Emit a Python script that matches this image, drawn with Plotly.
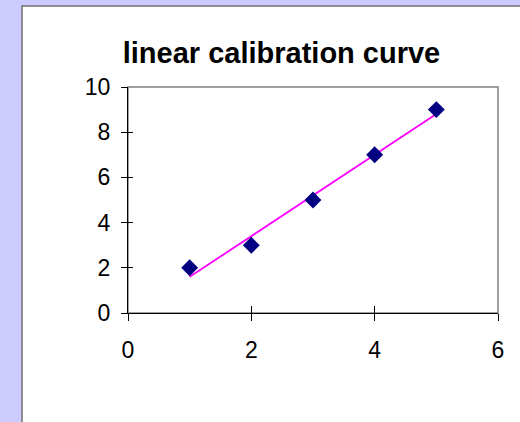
import plotly.graph_objects as go
import numpy as np

# Calibration standards
concentration = [1, 2, 3, 4, 5]
response = [2, 3, 5, 7, 9]

x_ticks = [0, 2, 4, 6]
y_ticks = [0, 2, 4, 6, 8, 10]

# Least-squares linear trendline over the standards' range
slope, intercept = np.polyfit(concentration, response, 1)
fit_x = [min(concentration), max(concentration)]
fit_y = [slope * v + intercept for v in fit_x]

FONT = "Liberation Sans, Arial, sans-serif"

fig = go.Figure()

fig.add_trace(go.Scatter(
    x=fit_x, y=fit_y, mode="lines",
    line=dict(color="#ff00ff", width=1.8),
    hoverinfo="skip", showlegend=False,
))
fig.add_trace(go.Scatter(
    x=concentration, y=response, mode="markers",
    marker=dict(symbol="diamond", size=13, color="#000080",
                line=dict(width=0)),
    showlegend=False,
))
# empty trace so the overlay axes (inner half of the crossing ticks) are drawn
fig.add_trace(go.Scatter(x=[None], y=[None], xaxis="x2", yaxis="y2",
                         showlegend=False, hoverinfo="skip"))

axis_common = dict(showgrid=False, zeroline=False)

fig.update_layout(
    width=520, height=422,
    margin=dict(l=128, r=22, t=87, b=109),
    paper_bgcolor="#ccccff",
    plot_bgcolor="white",
    font=dict(family=FONT, color="black"),
    title=dict(
        text="<b>linear calibration curve</b>",
        font=dict(family=FONT, size=29, color="black"),
        xref="container", yref="container",
        x=281.5 / 520, xanchor="center",
        y=1 - 53 / 422, yanchor="middle",
    ),
    xaxis=dict(
        range=[0, 6], tickvals=x_ticks, ticks="outside", ticklen=7,
        tickcolor="black", showline=True, linecolor="black", linewidth=1,
        tickfont=dict(size=23), ticklabelstandoff=9, **axis_common,
    ),
    yaxis=dict(
        range=[0, 10], tickvals=y_ticks, ticks="outside", ticklen=6,
        tickcolor="black", showline=True, linecolor="black", linewidth=1,
        tickfont=dict(size=23), ticklabelstandoff=6, **axis_common,
    ),
    xaxis2=dict(
        overlaying="x", matches="x", side="bottom", range=[0, 6],
        tickvals=x_ticks, ticks="inside", ticklen=7, tickcolor="black",
        showticklabels=False, showline=False, **axis_common,
    ),
    yaxis2=dict(
        overlaying="y", matches="y", side="left", range=[0, 10],
        tickvals=y_ticks, ticks="inside", ticklen=5, tickcolor="black",
        showticklabels=False, showline=False, **axis_common,
    ),
    shapes=[
        # white chart panel on the lavender page
        dict(type="rect", xref="paper", yref="paper", layer="below",
             x0=(22 - 128) / 370, x1=1.2, y0=-0.7, y1=(313 - 6) / 226,
             fillcolor="white", line=dict(color="#707070", width=1.5)),
        # plot-area frame (top and right edges show in gray)
        dict(type="rect", xref="paper", yref="paper", layer="below",
             x0=0, x1=1, y0=0, y1=1,
             fillcolor="rgba(0,0,0,0)", line=dict(color="#808080", width=1.5)),
    ],
)

fig.write_html("out.html")
